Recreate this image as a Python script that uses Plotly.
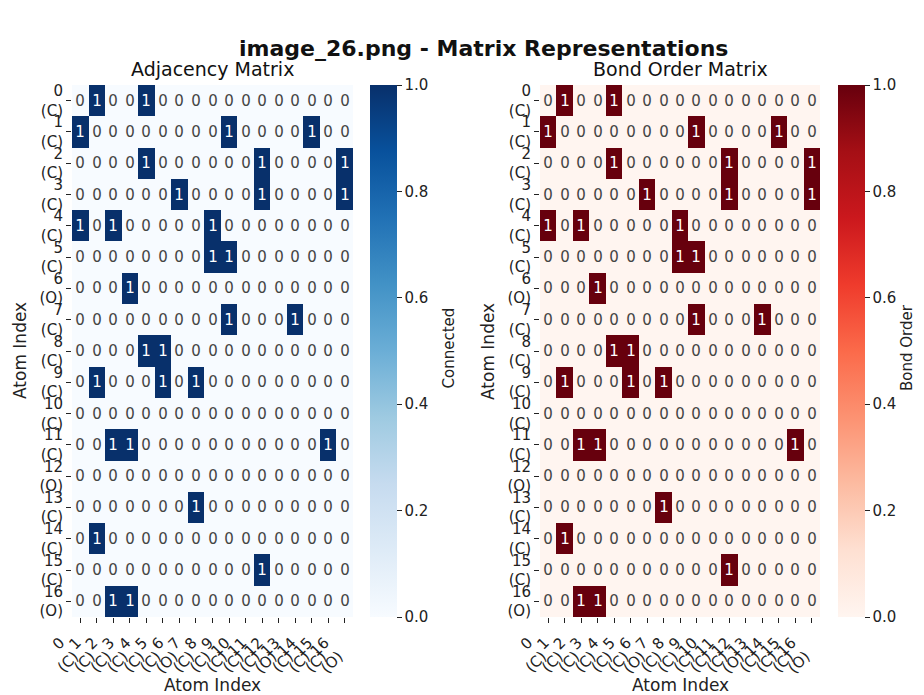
import plotly.graph_objects as go

# Atom labels
atom_ids = list(range(17))
atom_elems = ["C", "C", "C", "C", "C", "C", "O", "C", "C", "C", "C", "C", "O", "C", "C", "C", "O"]
tick_labels = [f"{i}<br>({e})" for i, e in zip(atom_ids, atom_elems)]

# Adjacency matrix rows
row_0 = [0, 1, 0, 0, 1, 0, 0, 0, 0, 0, 0, 0, 0, 0, 0, 0, 0]
row_1 = [1, 0, 0, 0, 0, 0, 0, 0, 0, 1, 0, 0, 0, 0, 1, 0, 0]
row_2 = [0, 0, 0, 0, 1, 0, 0, 0, 0, 0, 0, 1, 0, 0, 0, 0, 1]
row_3 = [0, 0, 0, 0, 0, 0, 1, 0, 0, 0, 0, 1, 0, 0, 0, 0, 1]
row_4 = [1, 0, 1, 0, 0, 0, 0, 0, 1, 0, 0, 0, 0, 0, 0, 0, 0]
row_5 = [0, 0, 0, 0, 0, 0, 0, 0, 1, 1, 0, 0, 0, 0, 0, 0, 0]
row_6 = [0, 0, 0, 1, 0, 0, 0, 0, 0, 0, 0, 0, 0, 0, 0, 0, 0]
row_7 = [0, 0, 0, 0, 0, 0, 0, 0, 0, 1, 0, 0, 0, 1, 0, 0, 0]
row_8 = [0, 0, 0, 0, 1, 1, 0, 0, 0, 0, 0, 0, 0, 0, 0, 0, 0]
row_9 = [0, 1, 0, 0, 0, 1, 0, 1, 0, 0, 0, 0, 0, 0, 0, 0, 0]
row_10 = [0, 0, 0, 0, 0, 0, 0, 0, 0, 0, 0, 0, 0, 0, 0, 0, 0]
row_11 = [0, 0, 1, 1, 0, 0, 0, 0, 0, 0, 0, 0, 0, 0, 0, 1, 0]
row_12 = [0, 0, 0, 0, 0, 0, 0, 0, 0, 0, 0, 0, 0, 0, 0, 0, 0]
row_13 = [0, 0, 0, 0, 0, 0, 0, 1, 0, 0, 0, 0, 0, 0, 0, 0, 0]
row_14 = [0, 1, 0, 0, 0, 0, 0, 0, 0, 0, 0, 0, 0, 0, 0, 0, 0]
row_15 = [0, 0, 0, 0, 0, 0, 0, 0, 0, 0, 0, 1, 0, 0, 0, 0, 0]
row_16 = [0, 0, 1, 1, 0, 0, 0, 0, 0, 0, 0, 0, 0, 0, 0, 0, 0]

adjacency = [row_0, row_1, row_2, row_3, row_4, row_5, row_6, row_7, row_8,
             row_9, row_10, row_11, row_12, row_13, row_14, row_15, row_16]
bond_order = [list(r) for r in adjacency]

FONT = "DejaVu Sans"
W, H = 924, 695
OFF = 8  # page body margin


def px_x(p):
    return (p - OFF) / W


def px_y(p):
    return 1 - (p - OFF) / H


top, bottom = 85, 617
panels = [
    dict(z=adjacency, cs="Blues", x0=72, x1=353, cbx=370, cbtx=448.5, cbtitle="Connected", title="Adjacency Matrix"),
    dict(z=bond_order, cs="Reds", x0=540, x1=820, cbx=838, cbtx=907, cbtitle="Bond Order", title="Bond Order Matrix"),
]

fig = go.Figure()
annotations = []
for k, p in enumerate(panels):
    sfx = "" if k == 0 else str(k + 1)
    fig.add_trace(go.Heatmap(
        z=p["z"], x=atom_ids, y=atom_ids,
        colorscale=p["cs"], zmin=0, zmax=1,
        xaxis="x" + sfx, yaxis="y" + sfx,
        texttemplate="%{z}", textfont=dict(family=FONT, size=15),
        hoverinfo="skip",
        colorbar=dict(
            x=px_x(p["cbx"]), xanchor="left", xref="paper", xpad=0,
            y=(px_y(top) + px_y(bottom)) / 2, yanchor="middle", ypad=0,
            len=(bottom - top) / H, lenmode="fraction",
            thickness=27, thicknessmode="pixels",
            outlinewidth=0,
            tickmode="array", tickvals=[0, 0.2, 0.4, 0.6, 0.8, 1.0],
            ticktext=["0.0", "0.2", "0.4", "0.6", "0.8", "1.0"],
            ticks="outside", ticklen=5, tickcolor="#222",
            tickfont=dict(family=FONT, size=15, color="#222"),
        ),
    ))
    xa = dict(
        domain=[px_x(p["x0"]), px_x(p["x1"])], anchor="y" + sfx,
        tickmode="array", tickvals=atom_ids, ticktext=tick_labels,
        tickangle=-45, ticks="outside", ticklen=5, tickcolor="#222",
        tickfont=dict(family=FONT, size=15, color="#222"),
        ticklabelshift=-20, ticklabelstandoff=5,
        showgrid=False, zeroline=False, showline=False,
        range=[-0.5, 16.5], automargin=False,
    )
    ya = dict(
        domain=[px_y(bottom), px_y(top)], anchor="x" + sfx,
        tickmode="array", tickvals=atom_ids, ticktext=tick_labels,
        ticks="outside", ticklen=5, tickcolor="#222",
        tickfont=dict(family=FONT, size=15, color="#222"),
        showgrid=False, zeroline=False, showline=False,
        range=[16.5, -0.5], automargin=False,
    )
    fig.update_layout(**{"xaxis" + sfx: xa, "yaxis" + sfx: ya})
    cx = (p["x0"] + p["x1"]) / 2
    annotations.append(dict(text=p["title"], x=px_x(cx), y=px_y(69), xref="paper", yref="paper",
                            showarrow=False, font=dict(family=FONT, size=19, color="#111"),
                            xanchor="center", yanchor="middle"))
    annotations.append(dict(text="Atom Index", x=px_x(cx), y=px_y(685), xref="paper", yref="paper",
                            showarrow=False, font=dict(family=FONT, size=17, color="#222"),
                            xanchor="center", yanchor="middle"))
    annotations.append(dict(text="Atom Index", x=px_x(p["x0"] - 52), y=(px_y(top) + px_y(bottom)) / 2,
                            xref="paper", yref="paper", textangle=-90,
                            showarrow=False, font=dict(family=FONT, size=17, color="#222"),
                            xanchor="center", yanchor="middle"))
    annotations.append(dict(text=p["cbtitle"], x=px_x(p["cbtx"]), y=px_y(348),
                            xref="paper", yref="paper", textangle=-90,
                            showarrow=False, font=dict(family=FONT, size=15, color="#222"),
                            xanchor="center", yanchor="middle"))

annotations.append(dict(text="<b>image_26.png - Matrix Representations</b>", x=px_x(483), y=px_y(49),
                        xref="paper", yref="paper", showarrow=False,
                        font=dict(family=FONT, size=22, color="#111"),
                        xanchor="center", yanchor="middle"))

fig.update_layout(
    width=W, height=H,
    margin=dict(l=0, r=0, t=0, b=0),
    paper_bgcolor="white", plot_bgcolor="white",
    font=dict(family=FONT, color="#222"),
    annotations=annotations,
    showlegend=False,
)

fig.write_html("out.html")
